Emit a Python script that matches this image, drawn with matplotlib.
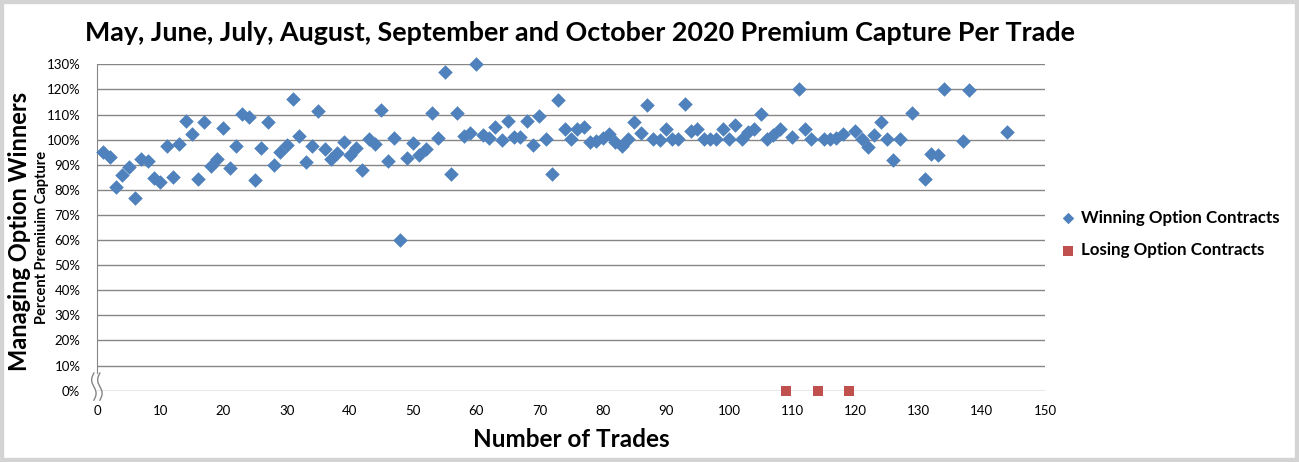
import numpy as np
import matplotlib
matplotlib.use("Agg")
import matplotlib.pyplot as plt
from matplotlib.ticker import PercentFormatter, MultipleLocator

plt.rcParams['font.family'] = ['Lato', 'DejaVu Sans']

# winning trades (trade number, premium captured in %)
win_trade = [1, 2, 3, 4, 5, 6, 7, 8, 9, 10, 11, 12, 13, 14, 15, 16, 17, 18, 19, 20,
             21, 22, 23, 24, 25, 26, 27, 28, 29, 30, 31, 32, 33, 34, 35, 36, 37, 38, 39, 40,
             41, 42, 43, 44, 45, 46, 47, 48, 49, 50, 51, 52, 53, 54, 55, 56, 57, 58, 59, 60,
             61, 62, 63, 64, 65, 66, 67, 68, 69, 70, 71, 72, 73, 74, 75, 76, 77, 78, 79, 80,
             81, 82, 83, 84, 85, 86, 87, 88, 89, 90, 91, 92, 93, 94, 95, 96, 97, 98, 99, 100,
             101, 102, 103, 104, 105, 106, 107, 108, 110, 111, 112, 113, 115, 116, 117, 118,
             120, 121, 122, 123, 124, 125, 126, 127, 129, 131, 132, 133, 134, 137, 138, 144]
win_pct = [95, 93, 81.2, 85.8, 89, 76.6, 92.1, 91.5, 84.7, 83, 97.6, 85, 98.1, 107.3, 102.2, 84.2, 107, 89.6, 92.1, 104.7,
           88.8, 97.6, 110.2, 108.9, 83.8, 96.7, 107.1, 90, 94.9, 98, 116, 101.3, 91.2, 97.6, 111.3, 96.3, 92.1, 94.5, 99, 93.7,
           96.7, 87.9, 100.2, 98.1, 111.7, 91.5, 100.5, 59.9, 92.7, 98.6, 93.7, 96.3, 110.7, 100.8, 126.9, 86.4, 110.5, 101.6, 102.6, 130,
           102, 100.8, 105, 99.8, 107.4, 100.9, 100.9, 107.3, 97.7, 109.4, 100.2, 86.2, 115.6, 104.1, 100.1, 104.4, 104.9, 99, 99.6, 100.6,
           102.2, 99.2, 97.6, 100.1, 107, 102.5, 113.7, 100.1, 99.8, 104.4, 100.1, 100.1, 114.1, 103.4, 104.1, 100.1, 100.1, 100.1, 104.1, 100.1,
           105.7, 100.1, 103, 104.4, 110.2, 100.1, 101.7, 104.1, 100.9, 120.3, 104.1, 100.1, 100.1, 100.1, 100.8, 102.2,
           103.4, 100.1, 96.9, 101.8, 106.9, 100.1, 91.7, 100.1, 110.5, 84.2, 94.4, 93.7, 120, 99.4, 119.6, 102.9]

# losing trades
lose_trade = [109, 114, 119]
lose_pct = [0, 0, 0]

fig = plt.figure(figsize=(12.99, 4.62), dpi=100)
ax = fig.add_axes([0.0747, 0.1545, 0.7298, 0.7063])

for y in np.arange(0, 131, 10):
    ax.axhline(y, color='#868686', lw=1, zorder=1)

ax.scatter(win_trade, win_pct, marker='D', s=55, color='#4F81BD', zorder=3,
           label='Winning Option Contracts', linewidths=0, clip_on=False)
ax.scatter(lose_trade, lose_pct, marker='s', s=52, color='#C0504D', zorder=3,
           label='Losing Option Contracts', linewidths=0, clip_on=False)

ax.set_xlim(0, 150)
ax.set_ylim(0, 130)
ax.xaxis.set_major_locator(MultipleLocator(10))
ax.yaxis.set_major_locator(MultipleLocator(10))
ax.yaxis.set_major_formatter(PercentFormatter(decimals=0))
ax.tick_params(length=0, labelsize=9.5, colors='#000000')
ax.tick_params(axis='y', pad=12)
ax.tick_params(axis='x', pad=10)

for s in ['top', 'right', 'bottom']:
    ax.spines[s].set_visible(False)
ax.spines['left'].set_color('#868686')
ax.spines['left'].set_bounds(7, 130)

# axis break squiggles
t = np.linspace(-3.8, 7, 60)
for x0 in [-0.5, 0.45]:
    ax.plot(x0 + 0.35 * np.sin((t + 3.8) / 10.8 * 2 * np.pi), t, color='#868686', lw=1,
            clip_on=False, zorder=2)

fig.text(580 / 1299, 1 - 33 / 462,
         'May, June, July, August, September and October 2020 Premium Capture Per Trade',
         ha='center', va='center', fontsize=19.4, fontweight='bold')
ax.set_xlabel('Number of Trades', fontsize=17.5, fontweight='bold', labelpad=8)
fig.text(20 / 1299, 1 - 231 / 462, 'Managing Option Winners', rotation=90,
         ha='center', va='center', fontsize=17, fontweight='bold')
fig.text(42 / 1299, 1 - 237 / 462, 'Percent Premiuim Capture', rotation=90,
         ha='center', va='center', fontsize=10.5, fontweight='bold')

leg = fig.legend(loc='center left', bbox_to_anchor=(1048 / 1299, 1 - 234 / 462),
                 frameon=False, handlelength=0.6, handletextpad=0.45, labelspacing=1.0,
                 prop={'size': 12.2, 'weight': 'bold'})
leg.legend_handles[0].set_sizes([34])
leg.legend_handles[1].set_sizes([60])

# gray frame around the picture
fig.patches.append(plt.Rectangle((0, 0), 1, 1, transform=fig.transFigure,
                                 fill=False, ec='#d4d4d4', lw=6))

fig.savefig('out.png', dpi=100)
